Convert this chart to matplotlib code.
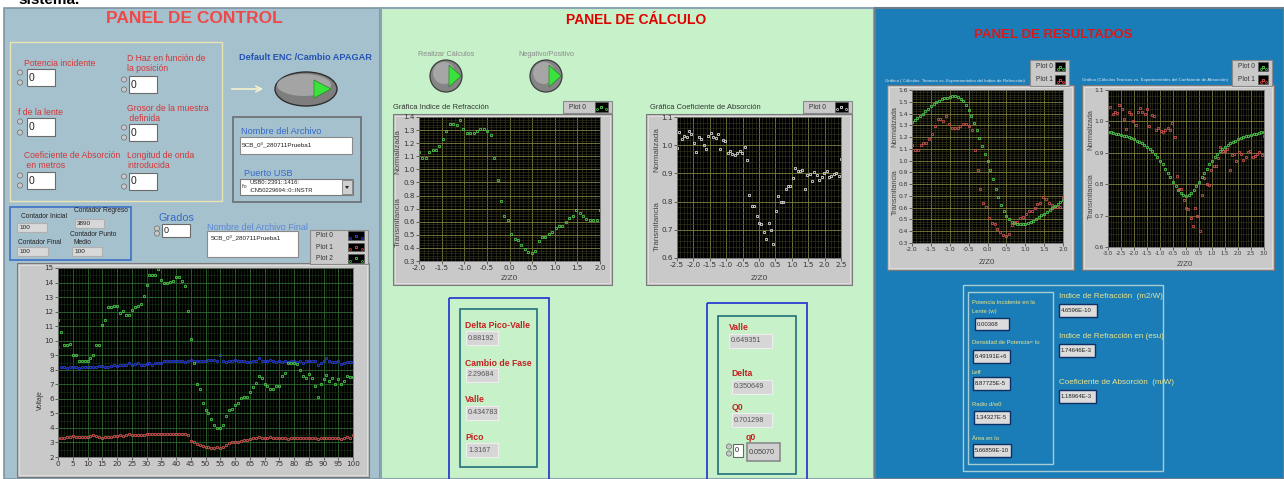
import matplotlib.pyplot as plt
import numpy as np
from matplotlib.patches import Rectangle, Ellipse, Circle, Polygon
from matplotlib.ticker import MultipleLocator, FormatStrFormatter

W, H = 1284, 479

# ---- datos ----
volt_x = np.arange(0, 101)
volt_p0 = [9.6, 8.2, 8.2, 8.15, 8.2, 8.2, 8.2, 8.15, 8.2, 8.2,
           8.2, 8.2, 8.2, 8.2, 8.25, 8.25, 8.2, 8.2, 8.25, 8.3,
           8.25, 8.3, 8.3, 8.35, 8.45, 8.35, 8.4, 8.45, 8.3, 8.3,
           8.4, 8.45, 8.35, 8.5, 8.45, 8.5, 8.6, 8.6, 8.6, 8.6,
           8.6, 8.6, 8.6, 8.55, 8.6, 8.65, 8.6, 8.6, 8.6, 8.6,
           8.6, 8.65, 8.7, 8.65, 8.6, 9.05, 8.6, 8.55, 8.6, 8.6,
           8.65, 8.6, 8.6, 8.6, 8.55, 8.55, 8.6, 8.6, 8.8, 8.6,
           8.6, 8.6, 8.65, 8.6, 8.55, 8.6, 8.55, 8.6, 8.55, 8.6,
           8.6, 8.55, 8.6, 8.45, 8.6, 8.6, 8.6, 8.6, 8.3, 8.5,
           8.6, 8.8, 8.6, 8.55, 8.55, 8.6, 8.4, 8.45, 8.55, 8.55,
           8.55]
volt_p1 = [3.3, 3.3, 3.3, 3.35, 3.35, 3.45, 3.4, 3.35, 3.4, 3.4,
           3.35, 3.45, 3.5, 3.45, 3.35, 3.3, 3.4, 3.4, 3.4, 3.45,
           3.45, 3.5, 3.45, 3.5, 3.55, 3.5, 3.5, 3.5, 3.5, 3.5,
           3.55, 3.6, 3.6, 3.6, 3.6, 3.6, 3.6, 3.6, 3.6, 3.6,
           3.6, 3.6, 3.6, 3.6, 3.5, 3.1, 3.0, 2.9, 2.8, 2.75,
           2.7, 2.7, 2.65, 2.65, 2.7, 2.65, 2.7, 2.85, 2.95, 3.0,
           3.0, 3.05, 3.1, 3.15, 3.2, 3.25, 3.3, 3.3, 3.35, 3.3,
           3.3, 3.3, 3.35, 3.3, 3.3, 3.3, 3.3, 3.3, 3.25, 3.3,
           3.3, 3.3, 3.3, 3.3, 3.3, 3.3, 3.3, 3.3, 3.25, 3.3,
           3.3, 3.3, 3.3, 3.3, 3.3, 3.3, 3.25, 3.3, 3.35, 3.3,
           3.5]
volt_p2 = [11.45, 10.6, 9.7, 9.7, 9.75, 9.05, 9.05, 8.6, 8.6, 8.6,
           8.6, 8.8, 9.0, 9.7, 9.7, 11.1, 11.4, 12.3, 12.35, 12.4,
           12.4, 11.9, 12.05, 11.8, 11.75, 12.1, 12.35, 12.4, 12.5, 13.1,
           13.85, 14.5, 14.5, 14.55, 14.9, 14.15, 14.0, 13.95, 14.05, 14.1,
           14.4, 14.35, 14.1, 13.75, 12.05, 10.15, 8.45, 7.0, 6.7, 5.7,
           5.2, 5.0, 4.6, 4.2, 4.0, 4.0, 4.2, 4.85, 5.2, 5.3,
           5.55, 5.7, 6.05, 6.1, 6.1, 6.5, 6.8, 7.1, 7.6, 7.4,
           7.05, 6.85, 6.65, 6.7, 6.85, 6.85, 7.55, 7.8, 8.45, 8.45,
           8.45, 8.4, 7.95, 7.55, 7.4, 7.7, 7.4, 6.9, 6.15, 7.05,
           7.35, 7.65, 7.25, 7.45, 7.05, 7.35, 7.05, 7.25, 7.55, 7.5,
           7.5]

refr_exp = [1.13, 1.09, 1.09, 1.13, 1.15, 1.15, 1.18, 1.23, 1.29, 1.35,
            1.35, 1.34, 1.38, 1.31, 1.28, 1.28, 1.28, 1.29, 1.31, 1.31,
            1.29, 1.26, 1.09, 0.92, 0.76, 0.64, 0.61, 0.51, 0.47, 0.46,
            0.42, 0.39, 0.37, 0.36, 0.38, 0.45, 0.48, 0.48, 0.51, 0.52,
            0.55, 0.57, 0.57, 0.60, 0.63, 0.64, 0.69, 0.67, 0.64, 0.62,
            0.61, 0.61, 0.61, 0.69]
abs_exp = [0.99, 1.047, 1.023, 1.031, 1.028, 1.052, 1.04, 1.008, 0.977, 1.03,
           1.023, 1.0, 0.987, 1.031, 1.044, 1.03, 1.025, 1.04, 0.985, 1.02,
           1.016, 0.972, 0.978, 0.969, 0.966, 0.972, 0.979, 0.974, 0.995, 0.949,
           0.825, 0.786, 0.784, 0.75, 0.724, 0.72, 0.691, 0.667, 0.724, 0.70,
           0.65, 0.766, 0.82, 0.80, 0.797, 0.845, 0.857, 0.857, 0.884, 0.919,
           0.907, 0.907, 0.911, 0.846, 0.893, 0.897, 0.874, 0.904, 0.896, 0.878,
           0.886, 0.901, 0.907, 0.886, 0.891, 0.897, 0.901, 0.892, 0.952]
refr_teo = [1.33, 1.345, 1.36, 1.38, 1.40, 1.42, 1.44, 1.46, 1.48, 1.495,
            1.51, 1.52, 1.53, 1.535, 1.54, 1.545, 1.545, 1.54, 1.525, 1.505,
            1.47, 1.43, 1.38, 1.32, 1.26, 1.19, 1.12, 1.06, 1.0, 0.92,
            0.84, 0.76, 0.69, 0.62, 0.57, 0.53, 0.50, 0.48, 0.47, 0.46,
            0.46, 0.46, 0.465, 0.47, 0.48, 0.49, 0.505, 0.52, 0.535, 0.55,
            0.565, 0.58, 0.60, 0.615, 0.63, 0.65, 0.665]
abs_teo = [0.966, 0.965, 0.963, 0.961, 0.959, 0.957, 0.955, 0.952, 0.949, 0.946,
           0.943, 0.939, 0.935, 0.930, 0.925, 0.919, 0.912, 0.905, 0.896, 0.886,
           0.875, 0.863, 0.850, 0.836, 0.822, 0.808, 0.795, 0.783, 0.773, 0.765,
           0.762, 0.765, 0.773, 0.783, 0.795, 0.808, 0.822, 0.836, 0.850, 0.863,
           0.875, 0.886, 0.896, 0.905, 0.912, 0.919, 0.925, 0.930, 0.935, 0.939,
           0.943, 0.946, 0.949, 0.952, 0.955, 0.957, 0.959, 0.961, 0.963, 0.965,
           0.966]

refr_z = np.linspace(-2.0, 2.0, len(refr_exp))
abs_z = np.linspace(-2.5, 2.5, len(abs_exp))
abs_z_res = np.linspace(-3.0, 3.0, len(abs_exp))
refr_teo_z = np.linspace(-2.0, 2.0, len(refr_teo))
abs_teo_z = np.linspace(-3.0, 3.0, len(abs_teo))

SANS = 'Liberation Sans'

fig = plt.figure(figsize=(W / 100, H / 100), dpi=100)
bg = fig.add_axes([0, 0, 1, 1])
bg.set_xlim(0, W)
bg.set_ylim(H, 0)
bg.axis('off')


def rect(x0, y0, x1, y1, fc, ec='none', lw=1.0, z=1):
    bg.add_patch(Rectangle((x0, y0), x1 - x0, y1 - y0, facecolor=fc,
                           edgecolor=ec, linewidth=lw, zorder=z))


def txt(x, y, s, size=6, color='#222222', weight='normal', ha='left', z=6, **kw):
    bg.text(x, y, s, fontsize=size, color=color, fontweight=weight, ha=ha,
            va='center', family=SANS, zorder=z, **kw)


def numbox(x0, y0, x1, y1, s, fc='white', ec='#6a6a6a', size=5.5, tc='#222222', lw=0.8):
    rect(x0, y0, x1, y1, fc, ec, lw, z=4)
    txt(x0 + 2, (y0 + y1) / 2, s, size=size, color=tc)


def spin(x, y0, y1):
    for yy in (y0 + 3.5, y1 - 3.5):
        bg.add_patch(Circle((x, yy), 2.6, facecolor='#c8c8c8', edgecolor='#6c6c6c',
                            linewidth=0.5, zorder=4))


def legend(x0, y0, x1, y1, names, colors):
    rect(x0, y0, x1, y1, '#c9c9c9', '#8a8a8a', 0.8, z=4)
    n = len(names)
    h = (y1 - y0) / n
    for i, (nm, c) in enumerate(zip(names, colors)):
        yc = y0 + h * (i + 0.5)
        txt(x0 + 6, yc, nm, size=4.8, color='#333333')
        sx0 = x1 - (x1 - x0) * 0.35
        rect(sx0, yc - h * 0.38, x1 - 4, yc + h * 0.38, 'black', '#555555', 0.4, z=5)
        bg.plot([(sx0 + x1 - 4) / 2], [yc], 's', ms=1.6, mfc='none', mec=c, mew=0.6, zorder=6)
        bg.plot([sx0 + 2.5, x1 - 6.5], [yc + h * 0.2, yc + h * 0.2], 's', ms=1.2,
                mfc='none', mec=c, mew=0.5, ls='none', zorder=6)


def frame(x0, y0, x1, y1):
    rect(x0, y0, x1, y1, '#c4c4c4', '#7a7a7a', 0.8, z=3)
    rect(x0 + 2, y0 + 2, x1 - 2, y1 - 2, '#c9c9c9', '#e2e2e2', 0.6, z=3)


def scope(x0, y0, x1, y1, xlim, ylim, xstep, ystep, xmin, ymin, gmaj, gmin, fmt, tsize=5.2):
    ax = fig.add_axes([x0 / W, 1 - y1 / H, (x1 - x0) / W, (y1 - y0) / H])
    ax.set_facecolor('black')
    ax.set_xlim(*xlim)
    ax.set_ylim(*ylim)
    ax.xaxis.set_major_locator(MultipleLocator(xstep))
    ax.yaxis.set_major_locator(MultipleLocator(ystep))
    ax.xaxis.set_minor_locator(MultipleLocator(xmin))
    ax.yaxis.set_minor_locator(MultipleLocator(ymin))
    ax.xaxis.set_major_formatter(FormatStrFormatter(fmt[0]))
    ax.yaxis.set_major_formatter(FormatStrFormatter(fmt[1]))
    ax.grid(which='minor', color=gmin, lw=0.4)
    ax.grid(which='major', color=gmaj, lw=0.6)
    ax.set_axisbelow(True)
    ax.tick_params(labelsize=tsize, colors='#333333', length=2, width=0.5, pad=1)
    ax.tick_params(which='minor', length=0)
    for s in ax.spines.values():
        s.set_color('#707070')
        s.set_linewidth(0.6)
    return ax


# ---- fondo general y paneles ----
txt(18, 0, 'sistema.', size=11, color='black', weight='bold', z=0)
rect(4, 8, 380, 479, '#a6c1ce', '#7d94a2', 1.2, z=1)
rect(381, 8, 874, 479, '#c7f1c9', '#8aa4b4', 1.5, z=1)
rect(875, 8, 1284, 479, '#1b7db7', '#6c7c88', 1.5, z=1)

# ================= PANEL DE CONTROL =================
txt(194, 18, 'PANEL DE CONTROL', size=12.5, color='#ee4848', weight='bold', ha='center')
rect(10, 42, 222, 201, 'none', '#ece4b4', 1.0, z=2)

RED = '#d33636'
txt(24, 63, 'Potencia incidente', size=6.2, color=RED)
spin(20, 69, 86)
numbox(27, 69, 55, 86, '0', size=7.5)
txt(18, 112, 'f de la lente', size=6.2, color=RED)
spin(20, 118, 136)
numbox(27, 118, 55, 136, '0', size=7.5)
txt(24, 155, 'Coeficiente de Absorción', size=6.2, color=RED)
txt(24, 165, ' en metros', size=6.2, color=RED)
spin(20, 172, 189)
numbox(27, 172, 55, 189, '0', size=7.5)

txt(127, 58, 'D Haz en función de', size=6.2, color=RED)
txt(127, 68, 'la posición', size=6.2, color=RED)
spin(124, 76, 93)
numbox(129, 76, 157, 93, '0', size=7.5)
txt(127, 108, 'Grosor de la muestra', size=6.2, color=RED)
txt(127, 118, ' definida', size=6.2, color=RED)
spin(124, 124, 141)
numbox(129, 124, 157, 141, '0', size=7.5)
txt(127, 155, 'Longitud de onda', size=6.2, color=RED)
txt(127, 165, 'introducida', size=6.2, color=RED)
spin(124, 173, 190)
numbox(129, 173, 157, 190, '0', size=7.5)

txt(305, 57, 'Default ENC /Cambio APAGAR', size=6.6, color='#2352b4', weight='bold', ha='center')
bg.annotate('', xy=(266, 89), xytext=(229, 89),
            arrowprops=dict(arrowstyle='->', color='#f6f2cc', lw=1.2), zorder=5)
bg.add_patch(Ellipse((306, 89), 62, 34, facecolor='#7e7e7e', edgecolor='#2e2e2e', lw=1.0, zorder=4))
bg.add_patch(Ellipse((304, 85), 54, 22, facecolor='#a4a4a4', edgecolor='none', zorder=4))
bg.add_patch(Polygon([(314, 80), (314, 98), (331, 89)], closed=True,
                     facecolor='#3ce23c', edgecolor='#1e8a1e', lw=0.5, zorder=5))

rect(233, 117, 361, 202, 'none', '#6e7478', 1.3, z=2)
txt(241, 131, 'Nombre del Archivo', size=6.6, color='#356ac8')
numbox(240, 137, 352, 154, '5CB_0º_280711Prueba1', size=4.6, ec='#8a8a8a')
txt(244, 173, 'Puerto USB', size=6.6, color='#356ac8')
rect(240, 179, 353, 195, 'white', '#7a7a7a', 0.8, z=4)
txt(242, 187, 'I/o', size=3.5, color='#333333')
txt(249, 183, 'USB0::2391::1416:', size=4.2, color='#222222')
txt(249, 190, ':CN50229694::0::INSTR', size=4.2, color='#222222')
rect(342, 180, 352, 194, '#cfcfcf', '#7a7a7a', 0.6, z=5)
bg.add_patch(Polygon([(345, 186), (349, 186), (347, 189)], closed=True,
                     facecolor='#222222', zorder=6))

rect(10, 207, 131, 260, 'none', '#4576c6', 1.3, z=2)
txt(21, 217, 'Contador Inicial', size=4.8)
numbox(17, 223, 47, 232, '100', fc='#d8d8d8', ec='#b0b0b0', size=4.6)
txt(74, 211, 'Contador Regreso', size=4.8)
numbox(75, 219, 104, 228, '3890', fc='#d8d8d8', ec='#b0b0b0', size=4.6)
txt(70, 234, 'Contador Punto', size=4.8)
txt(73, 242, 'Medio', size=4.8)
txt(18, 242, 'Contador Final', size=4.8)
numbox(17, 247, 48, 256, '100', fc='#d8d8d8', ec='#b0b0b0', size=4.6)
numbox(72, 247, 102, 256, '100', fc='#d8d8d8', ec='#b0b0b0', size=4.6)

txt(176, 218, 'Grados', size=7.8, color='#356ac8', ha='center')
spin(157, 225, 237)
numbox(162, 224, 190, 237, '0', size=6.5)
txt(207, 227, 'Nombre del Archivo Final', size=6.5, color='#5a86d6')
numbox(207, 231, 298, 257, '', size=4.6, ec='#8a8a8a')
txt(211, 239, '5CB_0º_280711Prueba1', size=4.6)

legend(310, 230, 368, 264, ['Plot 0', 'Plot 1', 'Plot 2'], ['#3a4cff', '#ff4a4a', '#4ae04a'])
frame(17, 263, 369, 477)
ax1 = scope(58, 268, 353, 457, (0, 100), (2, 15), 5, 1, 1, 0.5,
            '#2f6a2f', '#173517', ('%d', '%d'))
ax1.plot(volt_x, volt_p0, 's', ms=1.9, mfc='none', mec='#2a3ad8', mew=0.6)
ax1.plot(volt_x, volt_p1, 's', ms=1.9, mfc='none', mec='#d05050', mew=0.6)
ax1.plot(volt_x, volt_p2, 's', ms=1.9, mfc='none', mec='#48c848', mew=0.6)
txt(40, 400, 'Voltaje', size=4.8, color='#333333', rotation=90, ha='center')

# ================= PANEL DE CALCULO =================
txt(636, 20, 'PANEL DE CÁLCULO', size=10, color='#e00000', weight='bold', ha='center')
for cx, lab in ((446, 'Realizar Cálculos'), (546, 'Negativo/Positivo')):
    txt(cx, 54, lab, size=5.2, color='#8c8c8c', ha='center')
    bg.add_patch(Circle((cx, 76), 16, facecolor='#858585', edgecolor='#3c3c3c', lw=0.9, zorder=4))
    bg.add_patch(Circle((cx - 2, 73), 11, facecolor='#a6a6a6', edgecolor='none', zorder=4))
    bg.add_patch(Polygon([(cx + 3, 65), (cx + 3, 87), (cx + 15, 76)], closed=True,
                         facecolor='#3ce23c', edgecolor='#1e8a1e', lw=0.5, zorder=5))

txt(393, 107, 'Gráfica Indice de Refracción', size=5.4, color='#333333')
legend(563, 101, 612, 113, ['Plot 0'], ['#4ae04a'])
frame(393, 114, 612, 285)
ax2 = scope(419, 117, 600, 261, (-2, 2), (0.3, 1.4), 0.5, 0.1, 0.1, 0.02,
            '#80803e', '#3a3a22', ('%.1f', '%.1f'))
ax2.plot(refr_z, refr_exp, 's', ms=1.8, mfc='none', mec='#4cc84c', mew=0.6)
txt(398, 152, 'Normalizada', size=5.8, color='#444444', rotation=90, ha='center')
txt(398, 222, 'Transmitancia', size=5.8, color='#444444', rotation=90, ha='center')
txt(509, 279, 'Z/Z0', size=6, color='#444444', ha='center')

txt(650, 107, 'Gráfica Coeficiente de Absorción', size=5.4, color='#333333')
legend(803, 101, 852, 113, ['Plot 0'], ['#e8e8e8'])
frame(646, 114, 852, 285)
ax3 = scope(677, 117, 841, 258, (-2.5, 2.5), (0.6, 1.1), 0.5, 0.1, 0.1, 0.02,
            '#80803e', '#3a3a22', ('%.1f', '%.1f'))
ax3.plot(abs_z, abs_exp, 's', ms=1.8, mfc='none', mec='#d8d8d8', mew=0.6)
txt(657, 150, 'Normalizada', size=5.8, color='#444444', rotation=90, ha='center')
txt(657, 226, 'Transmitancia', size=5.8, color='#444444', rotation=90, ha='center')
txt(759, 279, 'Z/Z0', size=6, color='#444444', ha='center')

DRED = '#c42020'
rect(449, 298, 549, 490, 'none', '#2b3ed0', 1.3, z=2)
rect(460, 309, 537, 467, 'none', '#23707e', 1.2, z=2)
for lab, val, yl, yb in (('Delta Pico-Valle', '0.88192', 325, 331),
                         ('Cambio de Fase', '2.29684', 363, 368),
                         ('Valle', '0.434783', 400, 406),
                         ('Pico', '1.3167', 438, 443)):
    txt(465, yl, lab, size=6.2, color=DRED, weight='bold')
    numbox(466, yb, 498, yb + 14, val, fc='#d6d6d6', ec='#eeeeee', size=5.2, tc='#555555')

rect(707, 303, 807, 490, 'none', '#2b3ed0', 1.3, z=2)
rect(718, 316, 796, 474, 'none', '#23707e', 1.2, z=2)
txt(729, 328, 'Valle', size=6.2, color=DRED, weight='bold')
numbox(729, 334, 772, 348, '0.649351', fc='#d6d6d6', ec='#eeeeee', size=5.2, tc='#555555')
txt(731, 374, 'Delta', size=6.2, color=DRED, weight='bold')
numbox(732, 380, 772, 394, '0.350649', fc='#d6d6d6', ec='#eeeeee', size=5.2, tc='#555555')
txt(732, 407, 'Q0', size=6.2, color=DRED, weight='bold')
numbox(732, 413, 772, 427, '0.701298', fc='#d6d6d6', ec='#eeeeee', size=5.2, tc='#555555')
txt(746, 437, 'q0', size=6.2, color=DRED, weight='bold')
spin(729, 443, 457)
numbox(733, 444, 743, 457, '0', size=5.2)
numbox(747, 443, 780, 461, '0.05070', fc='#d0d0d0', ec='#8a8a8a', size=5.2, tc='#444444', lw=1.2)

# ================= PANEL DE RESULTADOS =================
txt(1053, 35, 'PANEL DE RESULTADOS', size=9.5, color='#e31414', weight='bold', ha='center')
legend(1030, 60, 1069, 86, ['Plot 0', 'Plot 1'], ['#4ae04a', '#ff4a4a'])
legend(1232, 60, 1272, 86, ['Plot 0', 'Plot 1'], ['#4ae04a', '#ff4a4a'])
txt(885, 81, 'Gráfica ( Cálculos  Teoricos vs. Experimentales del Indice de Refracción)',
    size=3.2, color='#dfe6ee')
txt(1082, 80, 'Gráfica (Cálculos Teoricos vs. Experimentales del Coeficiente de Absorción)',
    size=3.2, color='#dfe6ee')

frame(887, 85, 1074, 270)
ax4 = scope(912, 90, 1063, 243, (-2, 2), (0.3, 1.6), 0.5, 0.1, 0.1, 0.02,
            '#80803e', '#3a3a22', ('%.1f', '%.1f'), tsize=4.3)
ax4.plot(refr_z, refr_exp, 's', ms=1.7, mfc='none', mec='#c85050', mew=0.6)
ax4.plot(refr_teo_z, refr_teo, 's', ms=1.7, mfc='none', mec='#4cc84c', mew=0.6)
txt(895, 127, 'Normalizada', size=5.3, color='#444444', rotation=90, ha='center')
txt(895, 192, 'Transmitancia', size=5.3, color='#444444', rotation=90, ha='center')
txt(987, 263, 'Z/Z0', size=5.8, color='#444444', ha='center')

frame(1082, 85, 1274, 270)
ax5 = scope(1108, 90, 1264, 247, (-3, 3), (0.6, 1.1), 0.5, 0.1, 0.1, 0.02,
            '#80803e', '#3a3a22', ('%.1f', '%.1f'), tsize=4.3)
ax5.tick_params(axis='x', labelsize=3.8)
ax5.plot(abs_z_res, abs_exp, 's', ms=1.7, mfc='none', mec='#c85050', mew=0.6)
ax5.plot(abs_teo_z, abs_teo, 's', ms=1.7, mfc='none', mec='#4cc84c', mew=0.6)
txt(1091, 130, 'Normalizada', size=5.3, color='#444444', rotation=90, ha='center')
txt(1091, 196, 'Transmitancia', size=5.3, color='#444444', rotation=90, ha='center')
txt(1185, 265, 'Z/Z0', size=5.8, color='#444444', ha='center')

YEL = '#ece48c'
rect(963, 285, 1163, 471, 'none', '#a6ccd6', 1.0, z=2)
rect(968, 292, 1053, 464, 'none', '#a6ccd6', 1.0, z=2)
txt(972, 303, 'Potencia Incidente en la', size=4.2, color=YEL)
txt(972, 311, 'Lente (w)', size=4.2, color=YEL)
numbox(975, 318, 1009, 330, '0.00368', fc='#dcdcdc', ec='#0e2f66', size=4.3, lw=1.0)
txt(972, 342, 'Densidad de Potencia= Io', size=4.2, color=YEL)
numbox(973, 350, 1010, 363, '6.49191E+6', fc='#dcdcdc', ec='#0e2f66', size=4.3, lw=1.0)
txt(972, 372, 'Leff', size=4.2, color=YEL)
numbox(973, 377, 1010, 390, '8.87725E-5', fc='#dcdcdc', ec='#0e2f66', size=4.3, lw=1.0)
txt(972, 405, 'Radio d/w0', size=4.2, color=YEL)
numbox(974, 411, 1010, 424, '1.34327E-5', fc='#dcdcdc', ec='#0e2f66', size=4.3, lw=1.0)
txt(972, 438, 'Área en Io', size=4.2, color=YEL)
numbox(973, 444, 1011, 457, '5.66859E-10', fc='#dcdcdc', ec='#0e2f66', size=4.3, lw=1.0)

txt(1059, 297, 'Indice de Refracción  (m2/W)', size=5.8, color=YEL)
numbox(1059, 304, 1097, 317, '4.6596E-10', fc='#dcdcdc', ec='#0e2f66', size=4.3, lw=1.0)
txt(1059, 337, 'Indice de Refracción en (esu)', size=5.8, color=YEL)
numbox(1059, 344, 1095, 357, '1.74646E-3', fc='#dcdcdc', ec='#0e2f66', size=4.3, lw=1.0)
txt(1059, 383, 'Coeficiente de Absorción  (m/W)', size=5.8, color=YEL)
numbox(1059, 390, 1096, 403, '1.18964E-3', fc='#dcdcdc', ec='#0e2f66', size=4.3, lw=1.0)

fig.savefig('out.png', dpi=100)
